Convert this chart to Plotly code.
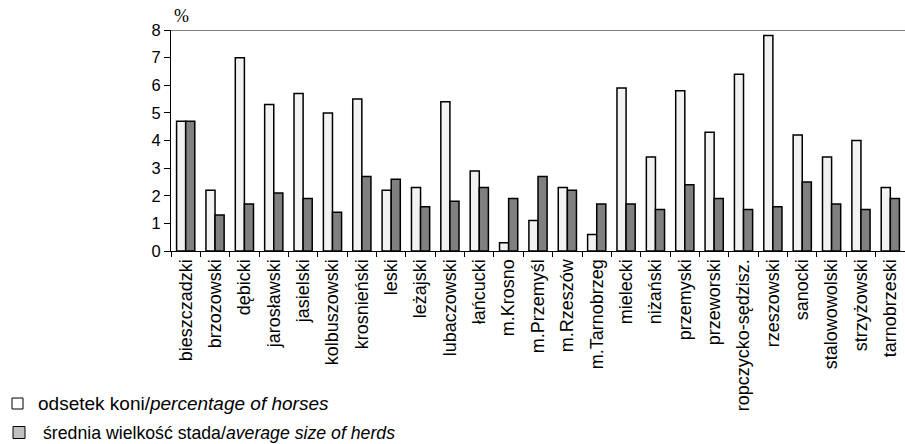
import plotly.graph_objects as go

categories = ["bieszczadzki", "brzozowski", "dębicki", "jarosławski", "jasielski",
              "kolbuszowski", "krosnieński", "leski", "leżajski", "lubaczowski",
              "łańcucki", "m.Krosno", "m.Przemyśl", "m.Rzeszów", "m.Tarnobrzeg",
              "mielecki", "niżański", "przemyski", "przeworski", "ropczycko-sędzisz.",
              "rzeszowski", "sanocki", "stalowowolski", "strzyżowski", "tarnobrzeski"]
pct_horses = [4.7, 2.2, 7.0, 5.3, 5.7, 5.0, 5.5, 2.2, 2.3, 5.4,
              2.9, 0.3, 1.1, 2.3, 0.6, 5.9, 3.4, 5.8, 4.3, 6.4,
              7.8, 4.2, 3.4, 4.0, 2.3]
avg_herd = [4.7, 1.3, 1.7, 2.1, 1.9, 1.4, 2.7, 2.6, 1.6, 1.8,
            2.3, 1.9, 2.7, 2.2, 1.7, 1.7, 1.5, 2.4, 1.9, 1.5,
            1.6, 2.5, 1.7, 1.5, 1.9]
y_ticks = [0, 1, 2, 3, 4, 5, 6, 7, 8]

FONT = "Liberation Sans, Arial, sans-serif"
W, H = 905, 444
ML, MR, MT, MB = 171, 0, 30, 193
PW, PH = W - ML - MR, H - MT - MB

fig = go.Figure()
fig.add_trace(go.Bar(x=categories, y=pct_horses, name="odsetek koni",
                     marker=dict(color="#f2f2f2", line=dict(color="black", width=1.5))))
fig.add_trace(go.Bar(x=categories, y=avg_herd, name="średnia wielkość stada",
                     marker=dict(color="#808080", line=dict(color="black", width=1.5))))

fig.update_layout(
    width=W, height=H,
    margin=dict(l=ML, r=MR, t=MT, b=MB),
    paper_bgcolor="white", plot_bgcolor="white",
    barmode="group", bargap=0.38, bargroupgap=0,
    showlegend=False,
    font=dict(family=FONT, size=16, color="black"),
)
fig.update_yaxes(range=[0, 8], tickvals=y_ticks, showgrid=False, zeroline=False,
                 showline=True, linecolor="black", linewidth=1,
                 ticks="outside", ticklen=6, tickcolor="black",
                 tickfont=dict(size=16.5, family=FONT))
fig.update_xaxes(showgrid=False, showline=True, linecolor="black", linewidth=1,
                 ticks="outside", tickson="boundaries", ticklen=5, tickcolor="black",
                 tickangle=-90, tickfont=dict(size=18, family=FONT))

# top border line at y=8
fig.add_shape(type="line", xref="paper", yref="y", x0=0, x1=1, y0=8, y1=8,
              line=dict(color="black", width=1))

def px_x(x):
    return (x - ML) / PW

def px_y(y):
    return 1 - (y - MT) / PH

fig.add_annotation(text="%", xref="paper", yref="paper", x=px_x(181), y=px_y(16),
                   xanchor="center", yanchor="middle", showarrow=False,
                   font=dict(family="Liberation Serif, Times New Roman, serif", size=18))

# custom legend
legend_items = [("#ffffff", "odsetek koni/<i>percentage of horses</i>", 403.5, 12, 23, 36, 19),
                ("#c0c0c0", "średnia wielkość stada/<i>average size of herds</i>", 432.5, 13, 25, 41, 17.7)]
for color, text, yc, xa, xb, xt, fs in legend_items:
    half = (xb - xa) / 2
    fig.add_shape(type="rect", xref="paper", yref="paper",
                  x0=px_x(xa), x1=px_x(xb), y0=px_y(yc + half), y1=px_y(yc - half),
                  fillcolor=color, line=dict(color="black", width=1))
    fig.add_annotation(text=text, xref="paper", yref="paper",
                       x=px_x(xt), y=px_y(yc),
                       xanchor="left", yanchor="middle", showarrow=False,
                       font=dict(family=FONT, size=fs))

fig.write_html("out.html", config={"displayModeBar": False},
               post_script="document.body.style.margin='0px';")
